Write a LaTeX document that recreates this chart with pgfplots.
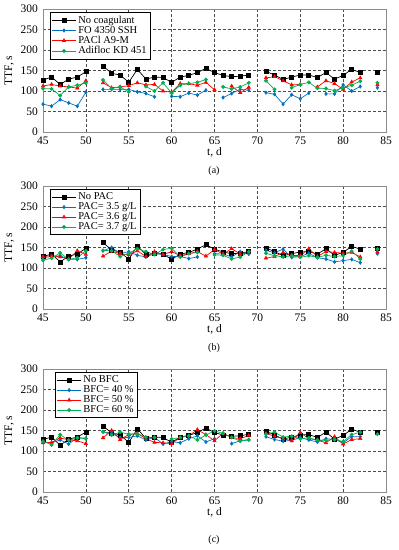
\documentclass[border=0pt]{standalone}
\usepackage{fontspec}
\setmainfont{Liberation Serif}
\usepackage{pgfplots}
\pgfplotsset{compat=1.18}
\definecolor{cblue}{RGB}{0,112,192}
\definecolor{cred}{RGB}{255,0,0}
\definecolor{cgreen}{RGB}{0,176,80}
\pgfplotsset{
 ttf/.style={scale only axis, width=343pt, height=123pt,
  xmin=45, xmax=85, ymin=0, ymax=300,
  xtick={45,50,...,85}, ytick={0,50,...,300},
  grid=major, grid style={densely dashed, black!70, line width=0.6pt},
  axis line style={black!45, line width=1pt},
  tick style={draw=none},
  unbounded coords=jump,
  /pgf/number format/assume math mode=true,
  ticklabel style={font=\fontsize{11.5}{13}\selectfont},
  xticklabel style={yshift=-1pt},
  yticklabel style={xshift=-1.5pt},
  xlabel={t, d}, ylabel={TTF, s},
  label style={font=\fontsize{11.5}{13}\selectfont},
  xlabel style={yshift=4pt},
  ylabel style={yshift=0pt},
  legend cell align=left,
  legend style={font=\fontsize{10.5}{12}\selectfont, draw=black, line width=0.7pt,
    at={(0.02,0.975)}, anchor=north west, inner sep=1.5pt, row sep=-2.5pt,
    nodes={inner sep=2pt}},
  legend image code/.code={\draw[mark repeat=2,mark phase=2,#1] plot coordinates {(0cm,0cm) (0.42cm,0cm) (0.84cm,0cm)};},
 },
 sblack/.style={black, line width=0.7pt, mark=square*, mark size=2pt, mark options={solid}},
 sblue/.style={cblue, line width=0.7pt, mark=diamond*, mark size=1.6pt, mark options={solid}},
 sred/.style={cred, line width=0.7pt, mark=triangle*, mark size=1.8pt, mark options={solid}},
 sgreen/.style={cgreen, line width=0.7pt, mark=*, mark size=1.6pt, mark options={solid}},
}
\begin{document}
\begin{tikzpicture}
\useasboundingbox (0,0) rectangle (399pt,-550pt);
% ---------------- (a)
\begin{axis}[ttf, at={(43pt,-9pt)}, anchor=north west]
\addplot[sblack] coordinates {(45,127) (46,134) (47,116) (48,129) (49,134) (50,147) (51,nan)
 (52,161) (53,143) (54,139) (55,121) (56,153) (57,129) (58,134) (59,133) (60,121) (61,134) (62,138) (63,145) (64,155) (65,145) (66,138) (67,135) (68,136) (69,139) (70,nan)
 (71,148) (72,139) (73,128) (74,134) (75,139) (76,139) (77,133) (78,145) (79,129) (80,138) (81,153) (82,145) (83,nan) (84,145)};
\addlegendentry{No coagulant}
\addplot[sblue] coordinates {(45,68) (46,63) (47,79) (48,71) (49,63) (50,97) (51,nan)
 (52,104) (53,104) (54,104) (55,104) (56,98) (57,94) (58,86) (59,nan) (60,87) (61,86) (62,95) (63,90) (64,102) (65,nan)
 (66,84) (67,94) (68,104) (69,102) (70,nan)
 (71,96) (72,92) (73,68) (74,91) (75,81) (76,95) (77,nan) (78,93) (79,93) (80,115) (81,100) (82,111) (83,nan) (84,108)};
\addlegendentry{FO 4350 SSH}
\addplot[sred] coordinates {(45,112) (46,116) (47,112) (48,110) (49,107) (50,125) (51,nan)
 (52,120) (53,108) (54,110) (55,113) (56,120) (57,115) (58,116) (59,100) (60,97) (61,118) (62,118) (63,114) (64,121) (65,103) (66,nan)
 (67,112) (68,96) (69,109) (70,nan)
 (71,132) (72,135) (73,125) (74,115) (75,116) (76,nan) (77,110) (78,125) (79,118) (80,104) (81,122) (82,132) (83,nan) (84,115)};
\addlegendentry{PACl A9-M}
\addplot[sgreen] coordinates {(45,106) (46,105) (47,89) (48,110) (49,114) (50,120) (51,nan)
 (52,127) (53,106) (54,110) (55,98) (56,nan) (57,111) (58,100) (59,120) (60,95) (61,114) (62,118) (63,121) (64,128) (65,nan)
 (66,110) (67,105) (68,110) (69,120) (70,nan)
 (71,125) (72,104) (73,nan) (74,108) (75,116) (76,121) (77,107) (78,106) (79,101) (80,108) (81,114) (82,124) (83,nan) (84,120)};
\addlegendentry{Adifloc KD 451}
\end{axis}
\node[font=\fontsize{10}{12}\selectfont] at (214pt,-171pt) {(a)};
% ---------------- (b)
\begin{axis}[ttf, at={(43pt,-186pt)}, anchor=north west]
\addplot[sblack] coordinates {(45,128) (46,134) (47,115) (48,129) (49,134) (50,148) (51,nan)
 (52,162) (53,144) (54,139) (55,121) (56,154) (57,133) (58,135) (59,134) (60,121) (61,134) (62,138) (63,146) (64,157) (65,146) (66,139) (67,135) (68,136) (69,140) (70,nan)
 (71,149) (72,140) (73,130) (74,135) (75,139) (76,140) (77,134) (78,147) (79,131) (80,138) (81,153) (82,146) (83,nan) (84,147)};
\addlegendentry{No PAC}
\addplot[sblue] coordinates {(45,125) (46,128) (47,130) (48,121) (49,121) (50,125) (51,nan)
 (52,142) (53,150) (54,135) (55,140) (56,131) (57,127) (58,135) (59,133) (60,128) (61,128) (62,123) (63,127) (64,nan)
 (65,135) (66,134) (67,127) (68,140) (69,134) (70,nan)
 (71,143) (72,137) (73,146) (74,126) (75,128) (76,136) (77,125) (78,122) (79,115) (80,118) (81,121) (82,113) (83,nan) (84,135)};
\addlegendentry{PAC= 3.5 g/L}
\addplot[sred] coordinates {(45,128) (46,130) (47,127) (48,122) (49,142) (50,133) (51,nan)
 (52,129) (53,141) (54,135) (55,132) (56,142) (57,128) (58,140) (59,133) (60,140) (61,130) (62,135) (63,140) (64,129) (65,145) (66,134) (67,147) (68,134) (69,137) (70,nan)
 (71,124) (72,128) (73,138) (74,131) (75,130) (76,147) (77,128) (78,140) (79,138) (80,136) (81,138) (82,127) (83,nan) (84,139)};
\addlegendentry{PAC= 3.6 g/L}
\addplot[sgreen] coordinates {(45,119) (46,124) (47,137) (48,121) (49,125) (50,142) (51,nan)
 (52,143) (53,142) (54,128) (55,136) (56,147) (57,140) (58,133) (59,145) (60,148) (61,127) (62,135) (63,138) (64,nan)
 (65,132) (66,131) (67,122) (68,127) (69,140) (70,nan)
 (71,136) (72,130) (73,127) (74,130) (75,126) (76,130) (77,126) (78,131) (79,128) (80,130) (81,141) (82,122) (83,nan) (84,146)};
\addlegendentry{PAC= 3.7 g/L}
\end{axis}
\node[font=\fontsize{10}{12}\selectfont] at (214pt,-348pt) {(b)};
% ---------------- (c)
\begin{axis}[ttf, at={(43pt,-369pt)}, anchor=north west,
  legend style={at={(0.035,0.975)}}]
\addplot[sblack] coordinates {(45,128) (46,134) (47,114) (48,129) (49,134) (50,146) (51,nan)
 (52,161) (53,144) (54,139) (55,121) (56,154) (57,131) (58,134) (59,133) (60,121) (61,134) (62,138) (63,145) (64,156) (65,145) (66,139) (67,136) (68,137) (69,141) (70,nan)
 (71,148) (72,139) (73,129) (74,134) (75,139) (76,140) (77,133) (78,146) (79,129) (80,138) (81,153) (82,146) (83,nan) (84,146)};
\addlegendentry{No BFC}
\addplot[sblue] coordinates {(45,122) (46,120) (47,127) (48,117) (49,133) (50,131) (51,nan)
 (52,147) (53,143) (54,133) (55,133) (56,137) (57,127) (58,133) (59,117) (60,123) (61,120) (62,130) (63,137) (64,122) (65,130) (66,nan)
 (67,118) (68,125) (69,128) (70,nan)
 (71,135) (72,128) (73,124) (74,126) (75,133) (76,127) (77,122) (78,130) (79,128) (80,120) (81,135) (82,135)};
\addlegendentry{BFC= 40 \%}
\addplot[sred] coordinates {(45,120) (46,121) (47,132) (48,127) (49,125) (50,118) (51,nan)
 (52,132) (53,150) (54,128) (55,140) (56,143) (57,130) (58,121) (59,120) (60,118) (61,133) (62,137) (63,152) (64,140) (65,125) (66,143) (67,133) (68,130) (69,138) (70,nan)
 (71,143) (72,136) (73,130) (74,125) (75,145) (76,130) (77,127) (78,120) (79,135) (80,117) (81,128) (82,130)};
\addlegendentry{BFC= 50 \%}
\addplot[sgreen] coordinates {(45,124) (46,115) (47,140) (48,126) (49,132) (50,130) (51,nan)
 (52,147) (53,139) (54,146) (55,141) (56,142) (57,134) (58,133) (59,nan) (60,129) (61,133) (62,137) (63,127) (64,139) (65,149) (66,143) (67,133) (68,124) (69,127) (70,nan)
 (71,141) (72,146) (73,134) (74,136) (75,130) (76,132) (77,127) (78,126) (79,128) (80,123) (81,140) (82,146) (83,nan) (84,141)};
\addlegendentry{BFC= 60 \%}
\end{axis}
\node[font=\fontsize{10}{12}\selectfont] at (214pt,-540pt) {(c)};
\end{tikzpicture}
\end{document}
